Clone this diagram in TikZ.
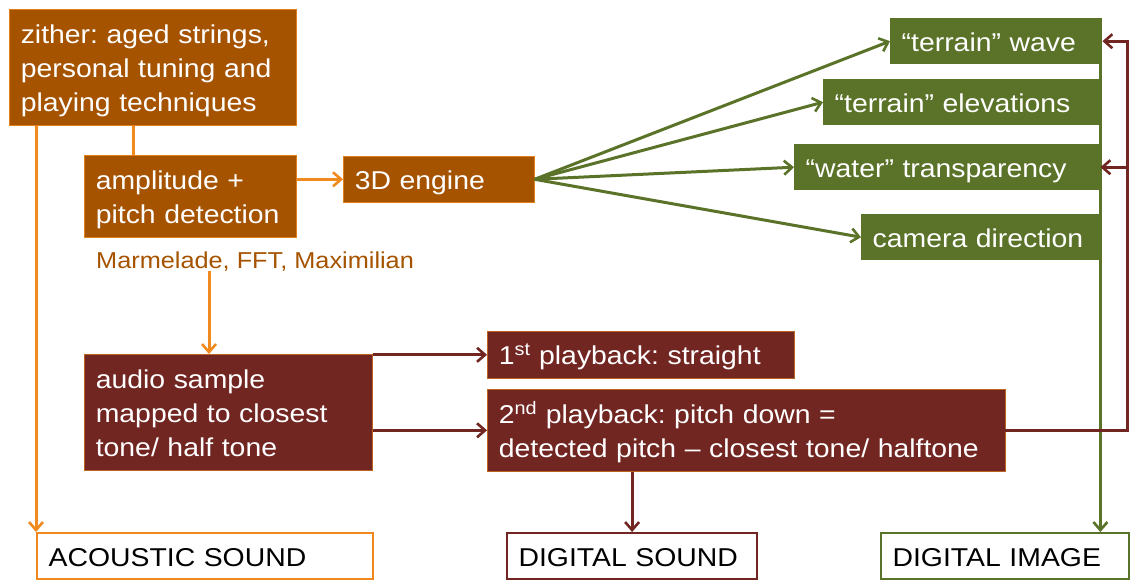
\documentclass[tikz,border=0pt]{standalone}
\usepackage{fontspec}
\setmainfont{Liberation Sans}[FakeStretch=1.1]
\usetikzlibrary{arrows.meta}
\definecolor{boxor}{HTML}{A65300}
\definecolor{lineor}{HTML}{F08A1E}
\definecolor{boxgr}{HTML}{5B7329}
\definecolor{boxrd}{HTML}{722622}
\newcommand\lnst{\rule[-6pt]{0pt}{32pt}}
\frenchspacing
\begin{document}
\begin{tikzpicture}[x=1pt,y=-1pt,
  fbox/.style={anchor=north west, inner xsep=11.5pt, inner ysep=0pt, text=white,
    font=\fontsize{25.8}{34}\selectfont\frenchspacing, align=left},
  obox/.style={fbox, fill=boxor, draw=lineor!80!boxor, line width=0.6pt},
  gbox/.style={fbox, fill=boxgr},
  rbox/.style={fbox, fill=boxrd, draw=lineor!60!boxrd, line width=0.6pt},
  wbox/.style={fbox, text=black, fill=white, line width=2.2pt},
  tip/.style={-{Straight Barb[length=8pt,width=14pt,line width=2.6pt]}},
  oline/.style={draw=lineor, line width=3pt},
  gline/.style={draw=boxgr, line width=3pt},
  rline/.style={draw=boxrd, line width=3pt}]
\useasboundingbox (0,0) rectangle (1130,579);
% orange boxes
\node[obox, minimum width=287pt, minimum height=116pt, text width=264pt] (zither) at (9,9)
  {\lnst zither: aged strings,\\\lnst personal tuning and\\\lnst playing techniques};
\node[obox, minimum width=212pt, minimum height=82pt, text width=189pt] (amp) at (84,155)
  {\lnst amplitude +\\\lnst pitch detection};
\node[obox, minimum width=191pt, minimum height=46pt, text width=168pt] (eng) at (343,156)
  {\lnst 3D engine};
\node[anchor=base west, inner sep=0pt, text=boxor, font=\fontsize{23}{28}\selectfont] (mm) at (96,268)
  {Marmelade, FFT, Maximilian};
% green boxes
\node[gbox, minimum width=212pt, minimum height=46pt, text width=189pt] (wave) at (890,18)
  {\lnst “terrain” wave};
\node[gbox, minimum width=277pt, minimum height=46pt, text width=254pt] (elev) at (823,79)
  {\lnst “terrain” elevations};
\node[gbox, minimum width=306pt, minimum height=46pt, text width=283pt] (water) at (794,144)
  {\lnst “water” transparency};
\node[gbox, minimum width=239pt, minimum height=46pt, text width=216pt] (cam) at (861,214)
  {\lnst camera direction};
% red boxes
\node[rbox, minimum width=288pt, minimum height=116pt, text width=265pt] (audio) at (84,354)
  {\lnst audio sample\\\lnst mapped to closest\\\lnst tone/ half tone};
\node[rbox, minimum width=307pt, minimum height=47pt, text width=284pt] (p1) at (487,331)
  {\lnst 1\textsuperscript{st} playback: straight};
\node[rbox, minimum width=518pt, minimum height=82pt, text width=495pt] (p2) at (487,389)
  {\lnst 2\textsuperscript{nd} playback: pitch down =\\\lnst detected pitch – closest tone/ halftone};
% output boxes
\node[wbox, draw=lineor, minimum width=336pt, minimum height=46pt, text width=313pt] (acoustic) at (36,532)
  {\lnst ACOUSTIC SOUND};
\node[wbox, draw=boxrd, minimum width=250pt, minimum height=46pt, text width=227pt] (dsound) at (506,532)
  {\lnst DIGITAL SOUND};
\node[wbox, draw=boxgr, minimum width=248pt, minimum height=46pt, text width=225pt] (dimage) at (880,532)
  {\lnst DIGITAL IMAGE};
% orange connectors
\draw[oline] ([xshift=49pt]amp.north west) -- ([xshift=49pt]amp.north west |- zither.south);
\draw[oline, tip] ([xshift=27pt]zither.south west) -- (acoustic.north west);
\draw[oline, tip] (amp.east |- eng.west) -- (eng.west);
\draw[oline, tip] ([xshift=125pt]audio.north west |- mm.south) -- ([xshift=125pt]audio.north west);
% green connectors
\draw[gline, tip] (eng.east) -- (wave.west);
\draw[gline, tip] (eng.east) -- (elev.west);
\draw[gline, tip] (eng.east) -- (water.west);
\draw[gline, tip] (eng.east) -- (cam.west);
\draw[gline, tip] ([xshift=-2pt]wave.south east) -- ([xshift=-2pt]wave.south east |- dimage.north);
% red connectors
\draw[rline, tip] (p1.west -| audio.east) -- (p1.west);
\draw[rline, tip] (p2.west -| audio.east) -- (p2.west);
\draw[rline, tip] (dsound.north |- p2.south) -- (dsound.north);
\coordinate (rs) at (891,430);
\coordinate (rc) at (1127.5,430);
\draw[rline, tip] (rs) -- (rc) |- (wave.east);
\draw[rline, tip] (rc |- water.east) -- (water.east);
\end{tikzpicture}
\end{document}
